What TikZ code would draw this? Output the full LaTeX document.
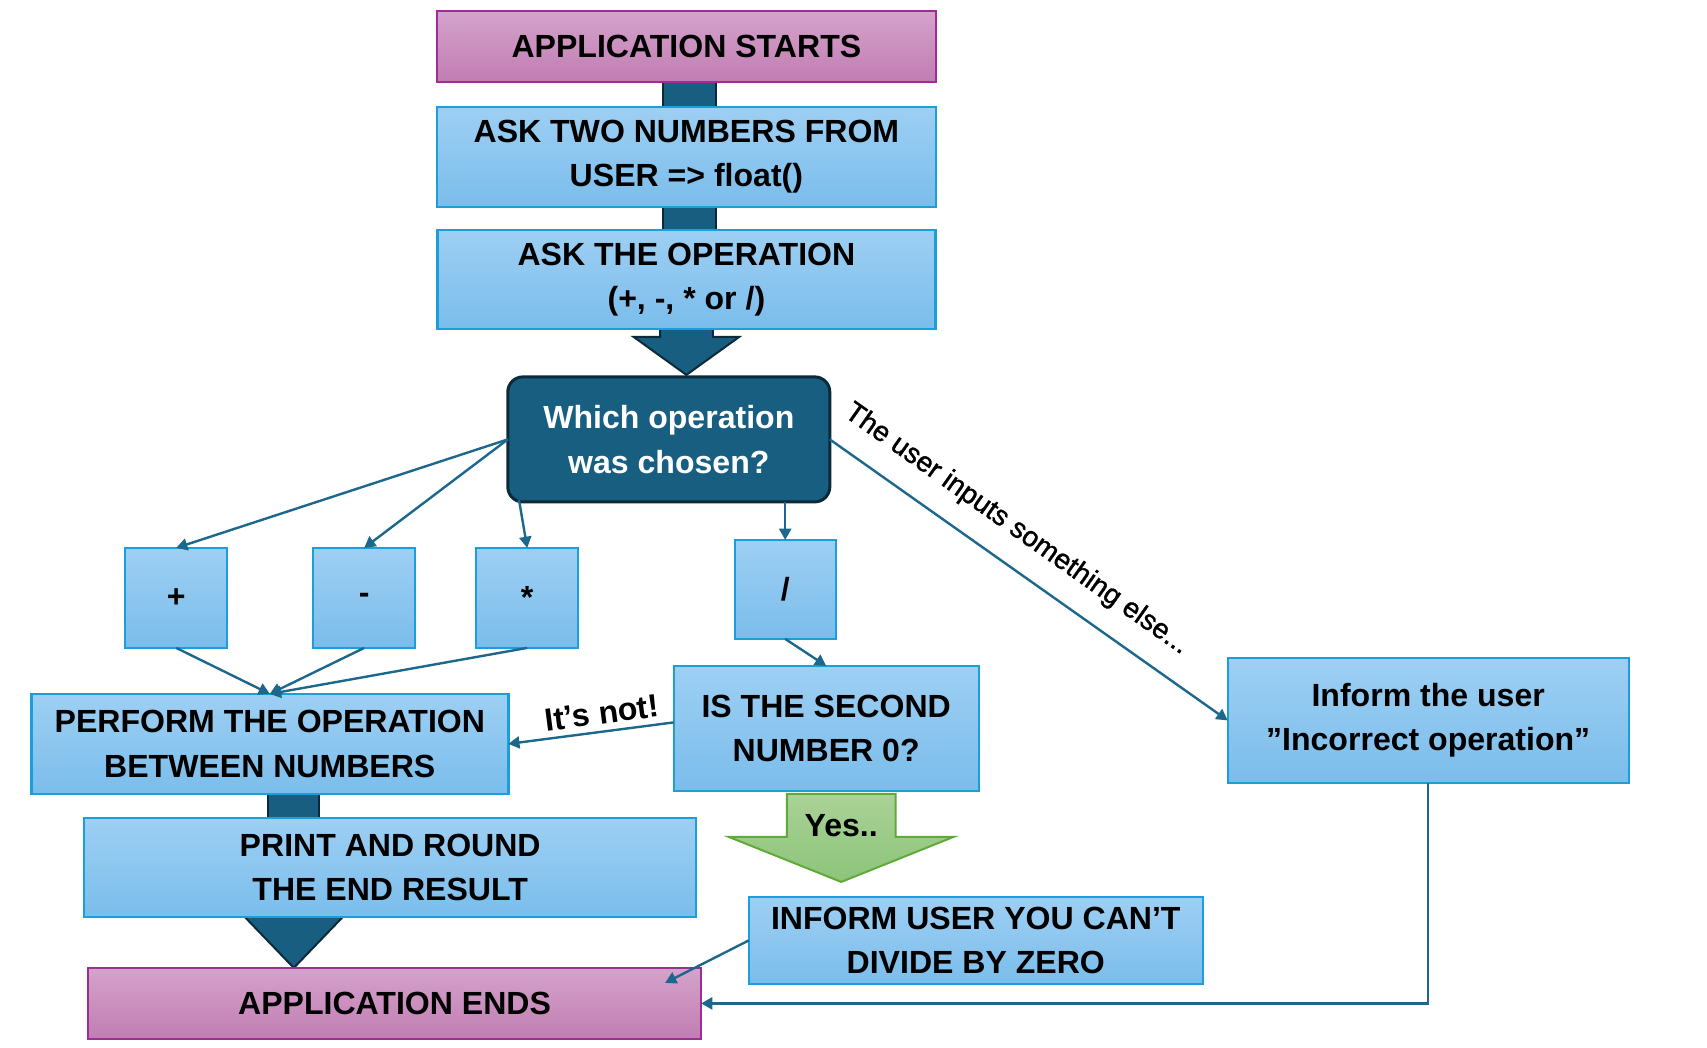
\documentclass[tikz,border=0pt]{standalone}
\usepackage{fontspec}
\setmainfont{Liberation Sans}
\newfontfamily\notefont[FakeBold=1.2]{Liberation Sans}
\usepackage{tikz}
\usetikzlibrary{arrows.meta,positioning,calc,backgrounds}
\definecolor{flowtop}{RGB}{158,207,243}
\definecolor{flowbot}{RGB}{122,189,235}
\definecolor{flowedge}{RGB}{26,159,217}
\definecolor{termtop}{RGB}{212,163,203}
\definecolor{termbot}{RGB}{193,125,178}
\definecolor{termedge}{RGB}{160,45,150}
\definecolor{flowteal}{RGB}{23,94,128}
\definecolor{flowdark}{RGB}{12,42,58}
\definecolor{linkblue}{RGB}{27,104,140}
\definecolor{yestop}{RGB}{170,210,150}
\definecolor{yesbot}{RGB}{140,196,122}
\definecolor{yesedge}{RGB}{96,170,55}
\newcommand{\flowfont}{\fontsize{22.8}{31.5}\selectfont\bfseries}

\begin{document}
\begin{tikzpicture}[
  box/.style={draw=flowedge, line width=0.6mm, top color=flowtop, bottom color=flowbot,
              outer sep=0pt, inner sep=0pt, align=center, font=\flowfont},
  term/.style={box, draw=termedge, top color=termtop, bottom color=termbot,
               minimum height=17.75mm},
  opbox/.style={box, minimum width=25.5mm, minimum height=25mm},
  choicebox/.style={draw=flowdark, fill=flowteal, line width=0.75mm, rounded corners=3.75mm,
                    outer sep=0pt, inner sep=0pt, align=center, font=\flowfont, text=white},
  bar/.style={fill=flowteal, draw=flowdark, line width=0.5mm},
  yesarrow/.style={draw=yesedge, line width=0.5mm, top color=yestop, bottom color=yesbot},
  link/.style={-{Triangle[length=2.8mm,width=3mm]}, line width=0.6mm, draw=linkblue},
  note/.style={font=\notefont\fontsize{20}{24}\selectfont, sloped, above}
]
  \useasboundingbox (0,0) rectangle (426.75mm,-262mm);

  % main column
  \node[term, minimum width=124.75mm] (start) at (171.6mm,-11.6mm) {APPLICATION STARTS};
  \node[box, minimum width=124.75mm, minimum height=25mm, below=6.25mm of start] (asknum)
    {ASK TWO NUMBERS FROM\\USER => float()};
  \node[box, minimum width=124.5mm, minimum height=24.75mm, below=5.75mm of asknum] (askop)
    {ASK THE OPERATION\\(+, -, * or /)};
  \node[choicebox, minimum width=80.5mm, minimum height=31.25mm,
        below=12mm of askop, xshift=-4.4mm] (choice) {Which operation\\was chosen?};

  % operations
  \node[opbox, below=11.5mm of choice, xshift=-35.4mm] (times) {*};
  \node[opbox, left=15.25mm of times] (minus) {-};
  \node[opbox, left=21.5mm of minus] (plus) {+};
  \node[opbox, minimum width=25.25mm, minimum height=24.75mm,
        below=9.5mm of choice, xshift=29.1mm] (divide) {/};

  \node[box, minimum width=119.25mm, minimum height=25mm,
        below=11.5mm of plus, xshift=23.4mm] (perform) {PERFORM THE OPERATION\\BETWEEN NUMBERS};
  \node[box, minimum width=76.25mm, minimum height=31.25mm,
        below=6.75mm of divide, xshift=10.25mm] (zerocheck) {IS THE SECOND\\NUMBER 0?};
  \node[box, minimum width=153mm, minimum height=24.75mm,
        below=6mm of perform, xshift=30.1mm] (print) {PRINT AND ROUND\\THE END RESULT};
  \node[term, minimum width=153.25mm, below=12.75mm of print, xshift=1.1mm] (ends)
    {APPLICATION ENDS};
  \node[box, minimum width=113.5mm, minimum height=21.75mm,
        below=26.5mm of zerocheck, xshift=37.4mm] (divzero) {INFORM USER YOU CAN’T\\DIVIDE BY ZERO};
  \node[box, minimum width=100.25mm, minimum height=31.25mm,
        right=62.25mm of zerocheck, yshift=2mm] (incorrect) {Inform the user\\”Incorrect operation”};

  % block arrows behind the boxes
  \begin{scope}[on background layer]
    \draw[bar] ($(start.south)+(-5.9mm,0.5mm)$) rectangle ($(asknum.north)+(7.4mm,-0.5mm)$);
    \draw[bar] ($(asknum.south)+(-5.9mm,0.5mm)$) rectangle ($(askop.north)+(7.4mm,-0.5mm)$);
    \draw[bar] ($(askop.south)+(-6.6mm,0.5mm)$) -- ++(0,-2.5mm) -- ++(-6.6mm,0)
      -- ($(askop.south |- choice.north)+(0,0.5mm)$)
      -- ($(askop.south)+(13.2mm,-2mm)$) -- ++(-6.6mm,0) -- ++(0,2.5mm) -- cycle;
    \coordinate (flowx) at ($(perform.south)+(6mm,0)$);
    \draw[bar] ($(flowx)+(-6.4mm,0.5mm)$) rectangle ($(flowx |- print.north)+(6.4mm,-0.5mm)$);
    \draw[bar] ($(flowx |- print.south)+(-12.75mm,0.5mm)$) -- (flowx |- ends.north)
      -- ($(flowx |- print.south)+(12.75mm,0.5mm)$) -- cycle;
  \end{scope}

  % yes arrow
  \coordinate (yesroot) at ($(zerocheck.south)+(3.75mm,-0.75mm)$);
  \draw[yesarrow] ($(yesroot)+(-13.6mm,0)$) -- ++(0,-10.75mm) -- ++(-14.5mm,0)
    -- ($(yesroot)+(0,-22mm)$) -- ($(yesroot)+(28.1mm,-10.75mm)$) -- ++(-14.5mm,0)
    -- ++(0,10.75mm) -- cycle;
  \node[font=\flowfont] (yes) at ($(yesroot)+(0,-8mm)$) {Yes..};

  % connectors
  \draw[link] (choice.west) -- (plus.north);
  \draw[link] (choice.west) -- (minus.north);
  \draw[link] ($(choice.south west)+(2.8mm,0.5mm)$) -- (times.north);
  \draw[link] (divide.north |- choice.south) -- (divide.north);
  \draw[link] (choice.east) -- node[note, pos=0.42, inner sep=5mm] (elsenote)
    {The user inputs something else...} (incorrect.west);
  \draw[link] (plus.south) -- (perform.north);
  \draw[link] (minus.south) -- (perform.north);
  \draw[link] (times.south) -- (perform.north);
  \draw[link] (divide.south) -- (zerocheck.north);
  \draw[link] ($(zerocheck.west)+(0,1.5mm)$) -- node[sloped, above, pos=0.42, font=\flowfont,
    inner sep=1.5mm] (notnote) {It’s not!} (perform.east);
  \draw[link] (divzero.west) -- ($(ends.north east)+(-9mm,-3.75mm)$);
  \draw[link] (incorrect.south) |- (ends.east);
\end{tikzpicture}
\end{document}
